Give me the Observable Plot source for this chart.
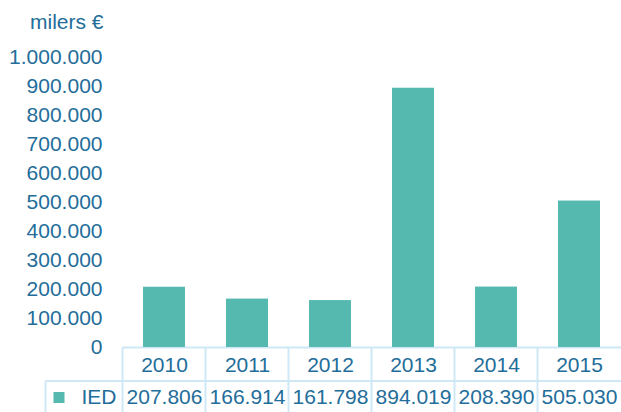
<!DOCTYPE html>
<html>
<head>
<meta charset="utf-8">
<script src="https://cdn.jsdelivr.net/npm/d3@7"></script>
<script src="https://cdn.jsdelivr.net/npm/@observablehq/plot@0.6"></script>
<style>
  html, body { margin: 0; padding: 0; background: #fff; }
  svg { display: block; }
</style>
</head>
<body>
<div id="chart"></div>
<script>
const years = ["2010", "2011", "2012", "2013", "2014", "2015"];
const values = [207806, 166914, 161798, 894019, 208390, 505030];
const seriesName = "IED";
const unitLabel = "milers €";
const yTicks = [0, 100000, 200000, 300000, 400000, 500000, 600000, 700000, 800000, 900000, 1000000];

const data = years.map((y, i) => ({year: y, value: values[i]}));

const textColor = "#236d9a";
const barColor = "#55b9b0";
const lineColor = "#cfe8f6";
const font = "'Liberation Sans', Arial, sans-serif";
const fs = 21;

const loc = d3.formatLocale({decimal: ",", thousands: ".", grouping: [3], currency: ["", "€"]});
const fmt = loc.format(",d");

const plot = Plot.plot({
  width: 621,
  height: 412,
  marginLeft: 121,
  marginRight: 0,
  marginTop: 57,
  marginBottom: 65,
  style: {fontFamily: font, fontSize: fs + "px", color: textColor, background: "#fff"},
  x: {domain: years, paddingInner: 0.5, paddingOuter: 0.25, align: 0.5},
  y: {domain: [0, 1000000]},
  marks: [
    Plot.barY(data, {x: "year", y: "value", fill: barColor}),
    Plot.axisY({ticks: yTicks, tickFormat: fmt, tickSize: 0, tickPadding: 19, fill: textColor, fontSize: fs, label: null}),
    Plot.axisX({tickSize: 0, tickPadding: 10, fill: textColor, fontSize: fs, label: null}),
    Plot.text(data, {x: "year", y: () => 0, dy: 50, text: d => fmt(d.value), fill: textColor, fontSize: fs, lineAnchor: "middle"})
  ]
});

const svg = d3.select(plot);
const xs = plot.scale("x");
const ys = plot.scale("y");
const step = xs.step;
const x0 = xs.apply(years[0]) - (step - xs.bandwidth) / 2;
const base = ys.apply(0) + 0.5;
const rowH = 33.5;
const legendLeft = x0 - 77;

const g = svg.append("g").attr("stroke", lineColor).attr("stroke-width", 2);
// horizontal table lines
g.append("line").attr("x1", x0).attr("x2", 621).attr("y1", base).attr("y2", base);
g.append("line").attr("x1", legendLeft).attr("x2", 621).attr("y1", base + rowH).attr("y2", base + rowH);
g.append("line").attr("x1", legendLeft).attr("x2", 621).attr("y1", base + 2 * rowH).attr("y2", base + 2 * rowH);
// vertical lines
years.forEach((y, i) => {
  const xv = x0 + i * step;
  g.append("line").attr("x1", xv).attr("x2", xv).attr("y1", base).attr("y2", base + 2 * rowH);
});
g.append("line").attr("x1", legendLeft).attr("x2", legendLeft).attr("y1", base + rowH).attr("y2", base + 2 * rowH);

// legend cell
svg.append("rect").attr("x", legendLeft + 8).attr("y", base + rowH + 11).attr("width", 11).attr("height", 11).attr("fill", barColor);
svg.append("text").attr("x", legendLeft + 36).attr("y", base + rowH + 16).attr("dy", "0.35em")
  .attr("text-anchor", "start")
  .attr("fill", textColor).style("font-size", fs + "px").style("font-family", font).text(seriesName);

// unit label
svg.append("text").attr("x", x0 - 19).attr("y", 22).attr("dy", "0.35em").attr("text-anchor", "end")
  .attr("fill", textColor).style("font-size", fs + "px").style("font-family", font).text(unitLabel);

// bring bars above lines
svg.selectAll("g[aria-label='bar']").raise();

document.getElementById("chart").appendChild(plot);
</script>
</body>
</html>
